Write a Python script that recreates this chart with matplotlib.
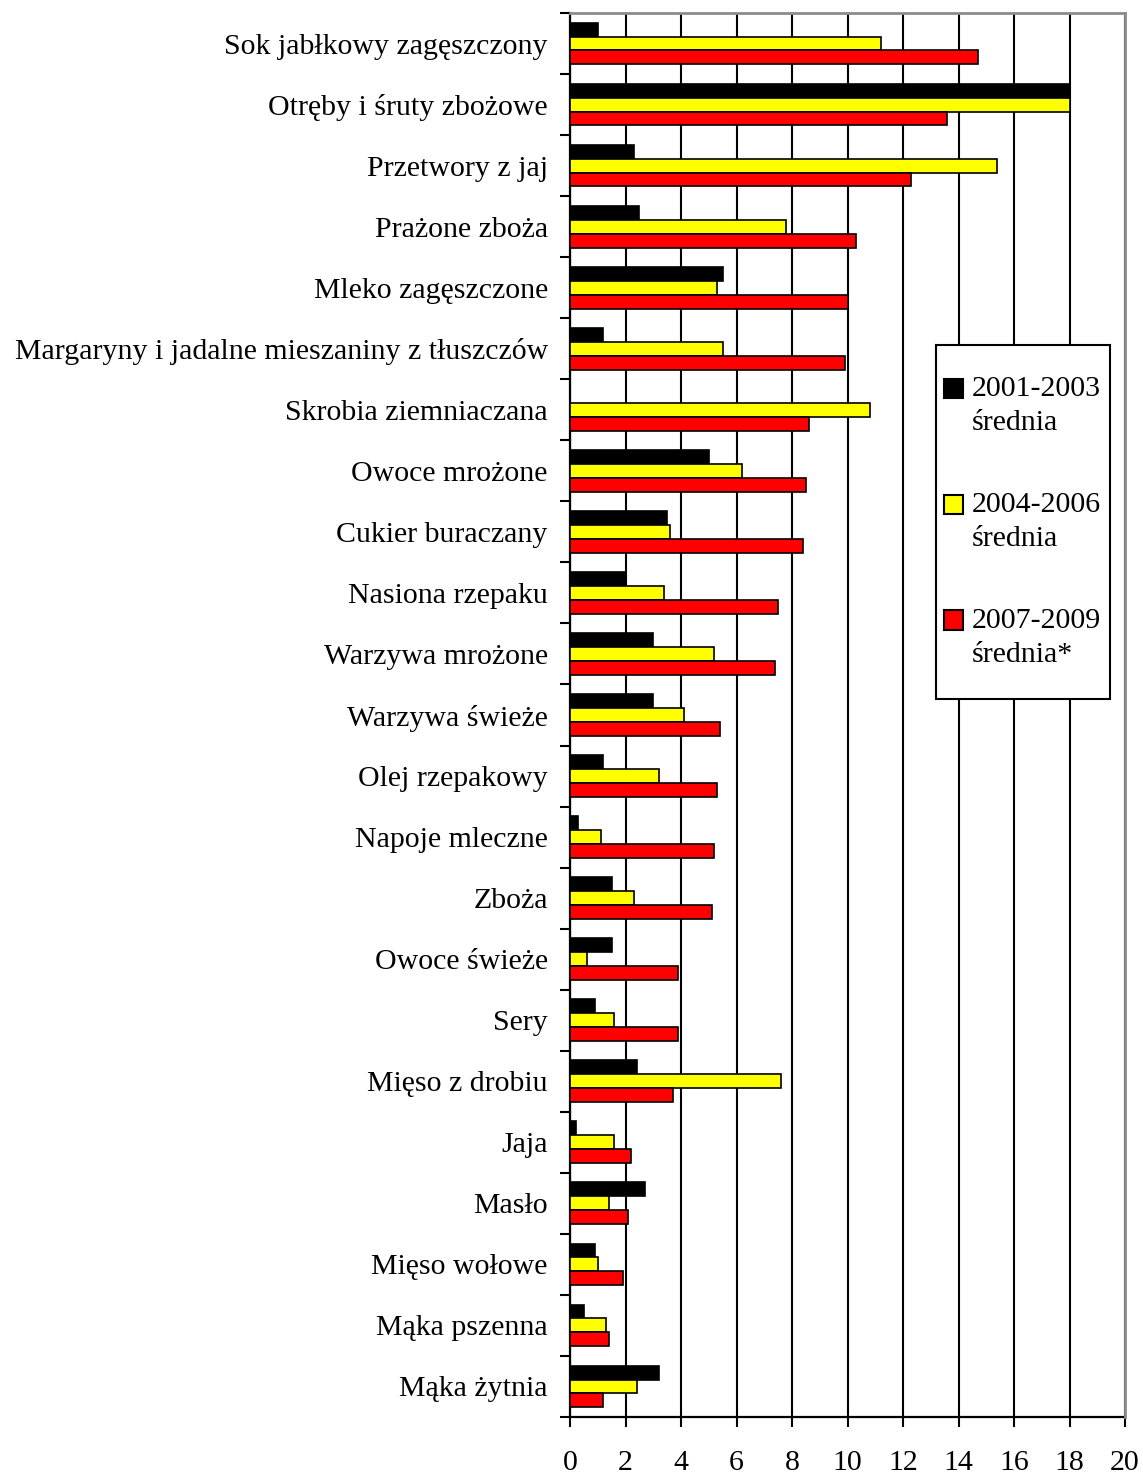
import numpy as np
import matplotlib
matplotlib.use('Agg')
from matplotlib import pyplot as plt
from matplotlib.ticker import MultipleLocator, FixedLocator
from matplotlib.patches import Rectangle
from matplotlib.container import BarContainer
from matplotlib.legend_handler import HandlerPatch, update_from_first_child

plt.rcParams['font.family'] = ['Liberation Serif', 'DejaVu Serif']
FS = 21.5

categories = ['Sok jabłkowy zagęszczony', 'Otręby i śruty zbożowe', 'Przetwory z jaj',
              'Prażone zboża', 'Mleko zagęszczone',
              'Margaryny i jadalne mieszaniny z tłuszczów', 'Skrobia ziemniaczana',
              'Owoce mrożone', 'Cukier buraczany', 'Nasiona rzepaku', 'Warzywa mrożone',
              'Warzywa świeże', 'Olej rzepakowy', 'Napoje mleczne', 'Zboża',
              'Owoce świeże', 'Sery', 'Mięso z drobiu', 'Jaja', 'Masło',
              'Mięso wołowe', 'Mąka pszenna', 'Mąka żytnia']

s2001 = [1.0, 18.0, 2.3, 2.5, 5.5, 1.2, 0.0, 5.0, 3.5, 2.0, 3.0, 3.0, 1.2, 0.3,
         1.5, 1.5, 0.9, 2.4, 0.2, 2.7, 0.9, 0.5, 3.2]
s2004 = [11.2, 18.0, 15.4, 7.8, 5.3, 5.5, 10.8, 6.2, 3.6, 3.4, 5.2, 4.1, 3.2, 1.1,
         2.3, 0.6, 1.6, 7.6, 1.6, 1.4, 1.0, 1.3, 2.4]
s2007 = [14.7, 13.6, 12.3, 10.3, 10.0, 9.9, 8.6, 8.5, 8.4, 7.5, 7.4, 5.4, 5.3, 5.2,
         5.1, 3.9, 3.9, 3.7, 2.2, 2.1, 1.9, 1.4, 1.2]

labels = ['2001-2003\nśrednia', '2004-2006\nśrednia', '2007-2009\nśrednia*']
colors = ['black', 'yellow', 'red']

fig = plt.figure(figsize=(11.43, 14.75), dpi=100)
ax = fig.add_axes([570 / 1143, 1 - 1417 / 1475, 555 / 1143, 1404 / 1475])

y = np.arange(len(categories))
h = 0.228
for k, (vals, lab, col) in enumerate(zip([s2001, s2004, s2007], labels, colors)):
    ax.barh(y + (k - 1) * h, vals, height=h, color=col, edgecolor='black',
            linewidth=1.2, label=lab, zorder=3)

ax.set_xlim(0, 20)
ax.set_ylim(len(categories) - 0.5, -0.5)
ax.xaxis.set_major_locator(MultipleLocator(2))
ax.set_yticks(y)
ax.set_yticklabels(categories)
ax.yaxis.set_minor_locator(FixedLocator(np.arange(-0.5, len(categories), 1)))
ax.tick_params(axis='y', which='major', length=0, pad=16, labelsize=FS)
ax.tick_params(axis='y', which='minor', length=7, width=1.5, direction='out')
ax.tick_params(axis='x', length=7, width=1.5, pad=17, labelsize=FS)
ax.grid(axis='x', color='black', linewidth=1.5, zorder=0)

ax.spines['left'].set_linewidth(1.6)
ax.spines['bottom'].set_linewidth(1.6)
for s in ['top', 'right']:
    ax.spines[s].set_color('#8c8c8c')
    ax.spines[s].set_linewidth(2)
    ax.spines[s].set_zorder(4)


# square marker next to the first line of each two-line label
def square_on_first_line(legend, orig_handle, xdescent, ydescent, width, height, fontsize):
    return Rectangle((-xdescent, -ydescent + 0.57 * fontsize), width, height)


leg = ax.legend(loc='upper left', bbox_to_anchor=(0.664, 0.7457), fontsize=FS,
                frameon=False, labelspacing=1.87, handlelength=0.62, handleheight=0.62,
                handletextpad=0.3, borderpad=0.2, borderaxespad=0,
                handler_map={BarContainer: HandlerPatch(patch_func=square_on_first_line,
                                                        update_func=update_from_first_child)})
for t in leg.get_texts():
    t.set_linespacing(1.4)
for p in leg.get_patches():
    p.set_linewidth(1.5)
leg.set_zorder(6)

# frame with extra vertical room, as in the original
fig.canvas.draw()
ax.xaxis.get_gridlines()[-1].set_visible(False)
bb = leg.get_window_extent().transformed(ax.transAxes.inverted())
vpad = 25 / 1404
ax.add_patch(Rectangle((bb.x0 - 0.005, bb.y0 - vpad), bb.width + 0.01, bb.height + 2 * vpad,
                       transform=ax.transAxes, facecolor='white', edgecolor='black',
                       linewidth=1.5, zorder=5))

fig.savefig('out.png', dpi=100)
